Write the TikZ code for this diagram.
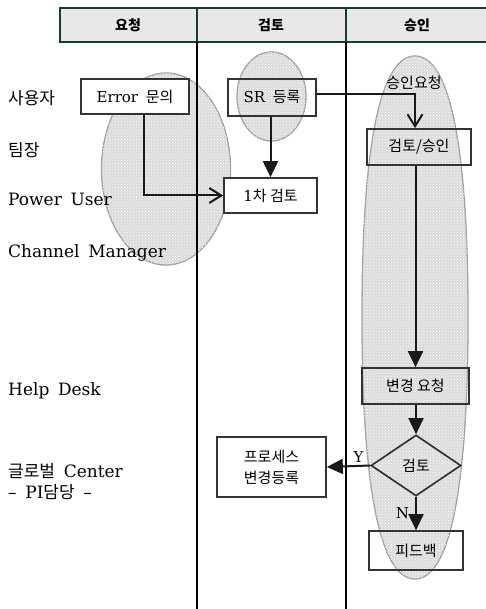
\documentclass[tikz,border=0pt]{standalone}
\usepackage{fontspec}
\setmainfont{DejaVu Serif}[WordSpace=1.6]
\newfontfamily\kr{Noto Sans CJK KR}
\usetikzlibrary{shapes.geometric,arrows.meta,patterns}
\definecolor{hdrline}{HTML}{1C3A28}
\definecolor{hdrfill}{HTML}{E8E8E8}
\definecolor{boxline}{HTML}{333333}
\begin{document}
\begin{tikzpicture}[x=1pt,y=-1pt,
  blob/.style={draw=gray!75, line width=1.3pt, fill=gray!28,
    postaction={pattern=crosshatch dots, pattern color=white}},
  box/.style={draw=boxline, line width=1.7pt, inner sep=0pt,
    font=\fontsize{15}{21}\selectfont, align=center},
  wbox/.style={box, fill=white},
  lbl/.style={anchor=west, inner sep=0pt, font=\fontsize{17}{20}\selectfont},
  hdrtxt/.style={inner sep=0pt, font=\fontsize{14}{17}\selectfont\kr\bfseries},
  conn/.style={draw=black!90, line width=2pt},
  fill arrow/.style={conn, -{Triangle[length=16pt,width=15pt]}},
  open arrow/.style={conn, -{Straight Barb[length=12pt,width=15pt,line width=2pt]}},
  lane/.style={draw=black, line width=1.7pt}
]
\useasboundingbox (0,0) rectangle (486,609);

% background blobs
\draw[blob] (166,169) ellipse [x radius=64.5, y radius=96];
\draw[blob] (271.5,96.5) ellipse [x radius=34.5, y radius=44.5];
\draw[blob] (415,56) .. controls (450,56) and (468,147) .. (468,317)
  .. controls (468,487) and (450,579) .. (415,579)
  .. controls (380,579) and (362,487) .. (362,317)
  .. controls (362,147) and (380,56) .. (415,56) -- cycle;

% header
\draw[hdrline, line width=2pt, fill=hdrfill] (60,8) rectangle (492,42);
\draw[hdrline, line width=1.6pt] (197,8) -- (197,42) (346,8) -- (346,42);
\node[hdrtxt] (h1) at (128,25) {요청};
\node[hdrtxt] (h2) at (271,25) {검토};
\node[hdrtxt] (h3) at (417,25) {승인};

% lanes
\coordinate (l1t) at (197,42);
\coordinate (l1b) at (197,612);
\coordinate (l2t) at (346,42);
\coordinate (l2b) at (346,612);
\draw[lane] (l1t) -- (l1b);
\draw[lane] (l2t) -- (l2b);

% row labels
\node[lbl] (r1) at (8,98) {\kr 사용자};
\node[lbl] (r2) at (8,150) {\kr 팀장};
\node[lbl] (r3) at (8,199) {Power User};
\node[lbl] (r4) at (8,253) {Channel Manager};
\node[lbl] (r5) at (8,391) {Help Desk};
\node[lbl] (r6) at (8,471) {{\kr 글로벌} Center};
\node[lbl] (r7) at (8,492) {– PI{\kr 담당} –};

% boxes
\node[wbox, minimum width=108, minimum height=35] (err) at (135,96.5) {Error {\kr 문의}};
\node[box, minimum width=88, minimum height=37] (sr) at (272,97.5) {SR {\kr 등록}};
\node[wbox, minimum width=93, minimum height=35] (chk) at (270.5,195.5) {1{\kr 차 검토}};
\node[box, minimum width=104, minimum height=36] (appr) at (419,147) {\kr 검토/승인};
\node[box, minimum width=107, minimum height=36] (chg) at (415.5,386) {\kr 변경 요청};
\node[box, shape=diamond, minimum width=90, minimum height=61, aspect=1.48] (dia) at (416,465.5) {\kr 검토};
\node[box, minimum width=94, minimum height=39] (fb) at (416,550.5) {\kr 피드백};
\node[wbox, minimum width=109, minimum height=60] (proc) at (271.5,467) {\kr 프로세스\\\kr 변경등록};

\node[inner sep=0pt, font=\fontsize{15}{17}\selectfont\kr] (apprq) at (414,83) {승인요청};

% connectors
\draw[open arrow] ([xshift=9pt]err.south) |- (chk.west);
\draw[fill arrow] (sr.south -| chk.north) -- (chk.north);
\coordinate (bend) at (415,94);
\draw[open arrow] (sr.east |- bend) -- (bend) -- (bend |- appr.north);
\draw[fill arrow] (appr.south -| chg.north) -- (chg.north);
\draw[fill arrow] (chg.south -| dia.north) -- (dia.north);
\draw[fill arrow] (dia.west) -- (proc.east) node[pos=0.27, above, inner sep=2pt, font=\fontsize{15}{17}\selectfont] (ylab) {Y};
\draw[fill arrow] (dia.south) -- (fb.north) node[pos=0.5, left, xshift=-4pt, inner sep=2pt, font=\fontsize{15}{17}\selectfont] (nlab) {N};
\end{tikzpicture}
\end{document}
